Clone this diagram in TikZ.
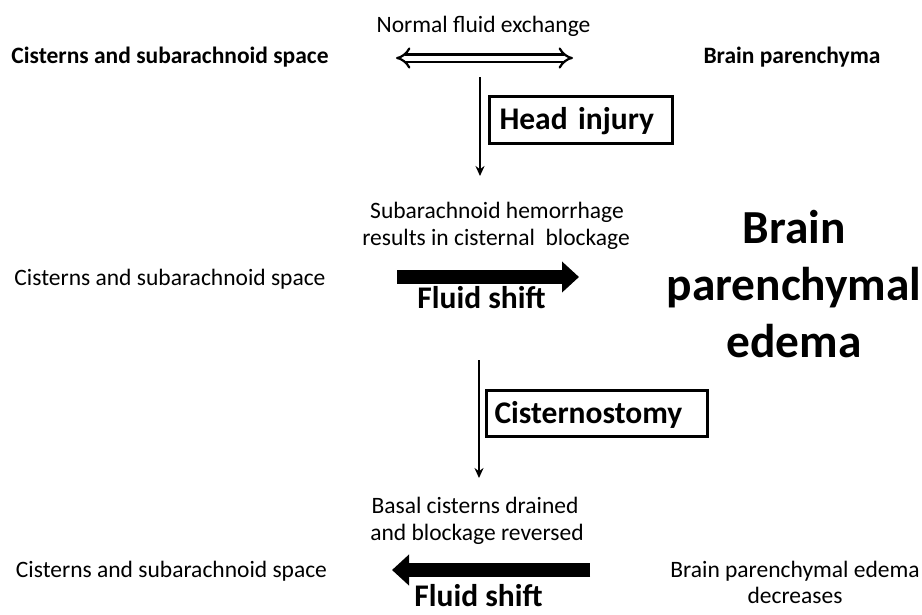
\documentclass[tikz,border=0pt]{standalone}
\usepackage{fontspec}
\setmainfont{Carlito}
\usetikzlibrary{arrows.meta}
\begin{document}
\begin{tikzpicture}[x=1pt,y=-1pt,
  lbl/.style={inner sep=0pt,anchor=base,font=\fontsize{23.5}{27}\selectfont},
  blbl/.style={inner sep=0pt,anchor=base,font=\fontsize{23.5}{27}\selectfont\bfseries},
  shiftlbl/.style={inner sep=0pt,anchor=base,font=\fontsize{31.5}{36}\selectfont\bfseries},
  boxlbl/.style={draw,line width=3pt,anchor=north west,align=left,text height=20pt,text depth=0pt,inner ysep=0pt,font=\fontsize{31.5}{36}\selectfont\bfseries},
  bigtxt/.style={inner sep=0pt,anchor=base,align=center,font=\fontsize{47.4}{57}\selectfont\bfseries},
  thin/.style={line width=1.8pt,-{Stealth[length=10pt,width=9pt]}},
  thick/.style={line width=14pt,-{Triangle[length=17pt,width=30pt]}},
  dbl/.style={double,double distance=5pt,line width=2.2pt,{Implies}-{Implies}}]
\useasboundingbox (0,0) rectangle (922,614);
% top row
\node[lbl] (normal) at (483.5,32) {Normal fluid exchange};
\node[blbl] (cistA) at (170,63) {Cisterns and subarachnoid space};
\node[blbl] (brainA) at (792,63) {Brain parenchyma};
\coordinate (dl) at (396,58);
\coordinate (dr) at (573,58);
\draw[dbl] (dl) -- (dr);
% head injury
\coordinate (v1s) at (480,77);
\coordinate (v1e) at (480,176);
\draw[thin] (v1s) -- (v1e);
\node[boxlbl,inner xsep=10.5pt,text width=162pt,minimum height=47pt] (head) at (487.5,94.5) {Head injury};
% middle row
\node[lbl] (sah1) at (497,218) {Subarachnoid hemorrhage};
\node[lbl] (sah2) at (496,245) {results in cisternal~ blockage};
\node[lbl] (cistB) at (170,285) {Cisterns and subarachnoid space};
\coordinate (t1s) at (397,277);
\coordinate (t1e) at (579,277);
\draw[thick] (t1s) -- (t1e);
\node[shiftlbl] (fs1) at (481.5,308) {Fluid shift};
\node[bigtxt] (edema) at (794,357) {Brain\\parenchymal\\edema};
% cisternostomy
\coordinate (v2s) at (479,360);
\coordinate (v2e) at (479,478);
\draw[thin] (v2s) -- (v2e);
\node[boxlbl,inner xsep=8.5pt,text width=204pt,minimum height=46pt] (cist) at (484.5,388.5) {Cisternostomy};
% bottom row
\node[lbl] (bas1) at (475,513) {Basal cisterns drained};
\node[lbl] (bas2) at (477,540) {and blockage reversed};
\node[lbl] (cistC) at (171.5,577) {Cisterns and subarachnoid space};
\coordinate (t2s) at (590,570);
\coordinate (t2e) at (392,570);
\draw[thick] (t2s) -- (t2e);
\node[shiftlbl] (fs2) at (478.5,606) {Fluid shift};
\node[lbl] (bpe1) at (795,577) {Brain parenchymal edema};
\node[lbl] (bpe2) at (795,603) {decreases};
\end{tikzpicture}
\end{document}
